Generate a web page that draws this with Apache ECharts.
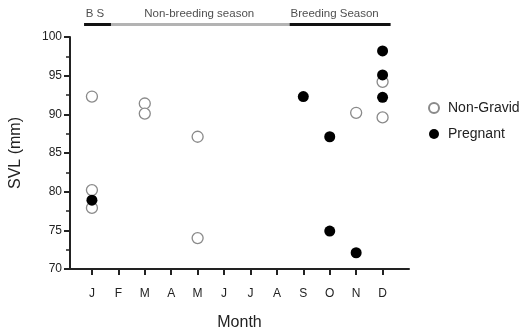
<!DOCTYPE html>
<html><head><meta charset="utf-8">
<script src="https://cdn.jsdelivr.net/npm/echarts@6/dist/echarts.min.js"></script>
<style>html,body{margin:0;padding:0;background:#fff}#c{width:520px;height:336px}</style>
</head><body><div id="c"></div>
<script>
var months = ['J','F','M','A','M','J','J','A','S','O','N','D'];
var monthTicks = [1,2,3,4,5,6,7,8,9,10,11,12];
var yTicks = [70,75,80,85,90,95,100];

var nonGravidMonth = [1,1,1,3,3,5,5,11,12,12];
var nonGravidSVL   = [92.3,80.2,77.9,91.4,90.1,87.1,74.0,90.2,94.2,89.6];

var pregnantMonth = [1,9,10,10,11,12,12,12];
var pregnantSVL   = [78.9,92.3,87.1,74.9,72.1,98.2,95.1,92.2];

var seasonNames = ['B S','Non-breeding season','Breeding Season'];
var seasonStart = [0.81,1.82,8.52];
var seasonEnd   = [1.82,8.52,12.31];
var seasonLabelAt = [1.22,5.13,10.21];

var FONT = 'Liberation Sans, Arial, sans-serif';
var seasonColors = ['#111','#b3b3b3','#111'];

function pts(xs, ys){ return xs.map(function(x,i){return [x, ys[i]];}); }

var seasonSeries = seasonNames.map(function(n,i){
  return {
    type:'line', xAxisIndex:1, yAxisIndex:1, symbol:'none', silent:true,
    lineStyle:{color:seasonColors[i], width:3},
    data:[[seasonStart[i],0],[seasonEnd[i],0]],
    z:1
  };
});
var seasonLabels = {
  type:'scatter', xAxisIndex:1, yAxisIndex:1, symbolSize:0, silent:true,
  data: seasonNames.map(function(n,i){ return {value:[seasonLabelAt[i],0], name:n}; }),
  label:{show:true, position:'top', distance:5, formatter:'{b}', color:'#222', fontFamily:FONT, fontSize:11.5}
};

var chart = echarts.init(document.getElementById('c'));
chart.setOption({
  animation:false,
  backgroundColor:'#fff',
  grid:[
    {left:67, right:111, top:37, bottom:66},
    {left:67, right:111, top:4, height:20.5}
  ],
  legend:{
    orient:'vertical', left:423, top:96, itemWidth:10, itemHeight:10, itemGap:12,
    data:['Non-Gravid','Pregnant'],
    textStyle:{color:'#222', fontFamily:FONT, fontSize:14, padding:[0,0,0,4]}
  },
  xAxis:[{
    type:'value', min:0.17, max:13, gridIndex:0,
    name:'Month', nameLocation:'middle', nameGap:46,
    nameTextStyle:{color:'#222', fontFamily:FONT, fontSize:16},
    axisLine:{show:true, onZero:false, lineStyle:{color:'#222', width:2}},
    axisTick:{show:true, length:6, customValues:monthTicks, lineStyle:{color:'#222', width:2}},
    axisLabel:{customValues:monthTicks, margin:19, color:'#222', fontFamily:FONT, fontSize:12,
      formatter:function(v){ return months[Math.round(v)-1] || ''; }},
    splitLine:{show:false}
  },{
    type:'value', min:0.17, max:13, gridIndex:1, show:false
  }],
  yAxis:[{
    type:'value', min:70, max:100, interval:5, gridIndex:0,
    name:'SVL (mm)', nameLocation:'middle', nameGap:46,
    nameTextStyle:{color:'#222', fontFamily:FONT, fontSize:16},
    axisLine:{show:true, onZero:false, lineStyle:{color:'#222', width:2}},
    axisTick:{show:true, length:6, lineStyle:{color:'#222', width:2}},
    minorTick:{show:true, splitNumber:2, length:4, lineStyle:{color:'#222', width:1.5}},
    axisLabel:{margin:8, color:'#222', fontFamily:FONT, fontSize:12},
    splitLine:{show:false}
  },{
    type:'value', min:0, max:1, gridIndex:1, show:false
  }],
  series:[
    {
      name:'Non-Gravid', type:'scatter', symbol:'circle', symbolSize:11,
      itemStyle:{color:'#fff', borderColor:'#8a8a8a', borderWidth:1.3, opacity:1},
      data:pts(nonGravidMonth, nonGravidSVL), z:3
    },
    {
      name:'Pregnant', type:'scatter', symbol:'circle', symbolSize:11,
      itemStyle:{color:'#000', opacity:1},
      data:pts(pregnantMonth, pregnantSVL), z:4
    }
  ].concat(seasonSeries).concat([seasonLabels])
});
</script></body></html>
